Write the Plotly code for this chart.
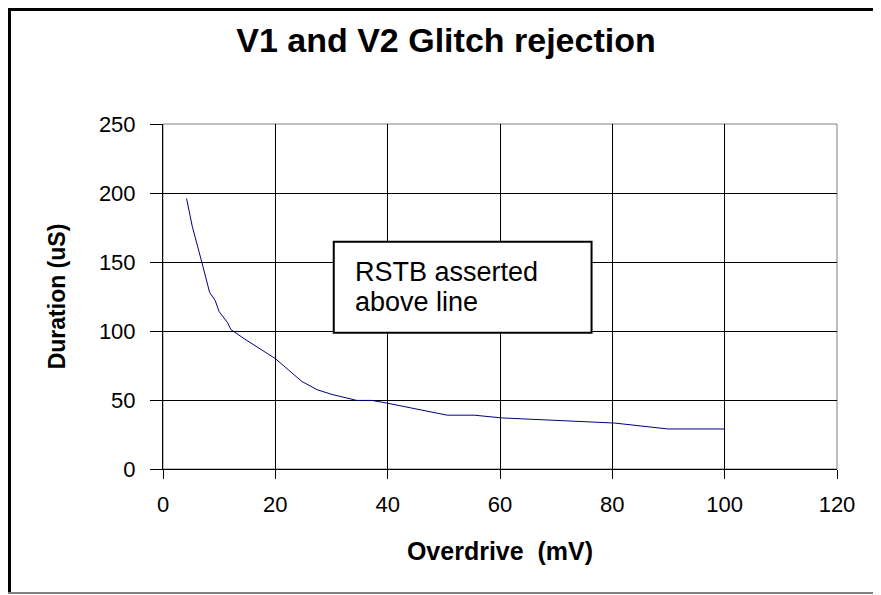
import plotly.graph_objects as go

# Glitch rejection curve
overdrive_mv = [4.2, 5.2, 6.9, 8.3, 9.3, 10.0, 11.5, 12.1, 14.6, 20.0, 24.7, 27.4,
                30.1, 34.5, 37.2, 39.8, 50.6, 55.4, 60.4, 80.4, 89.9, 100.0]
duration_us = [196, 176, 150, 128, 122, 114, 106, 101, 94, 80, 63.5, 57.5,
               54, 49.7, 49.7, 47.8, 39, 39, 37, 33.3, 29, 29]

x_ticks = [0, 20, 40, 60, 80, 100, 120]
y_ticks = [0, 50, 100, 150, 200, 250]

FONT = "Arial, Liberation Sans, sans-serif"

# the page body adds an 8px margin, so layout is shifted up/left by that much
PAGE_OFF = 8
L, T, W, H = 163 - PAGE_OFF, 124 - PAGE_OFF, 674, 345


def px(x):
    """figure pixel x -> paper x"""
    return (x - L) / W


def py(y):
    """figure pixel y -> paper y"""
    return (T + H - y) / H


fig = go.Figure()

fig.add_trace(go.Scatter(
    x=overdrive_mv, y=duration_us,
    mode="lines",
    line=dict(color="#000080", width=1),
    showlegend=False,
))

# text box
fig.add_shape(type="rect", xref="x", yref="y",
              x0=30.4, x1=76.3, y0=98.8, y1=164.7,
              line=dict(color="black", width=2), fillcolor="white", layer="above")
for txt, yv in [("RSTB asserted", 143.0), ("above line", 121.3)]:
    fig.add_annotation(x=33.9, y=yv, xref="x", yref="y",
                       text=txt, showarrow=False,
                       xanchor="left", yanchor="middle", align="left",
                       font=dict(family=FONT, size=27, color="black"))

# plot area border (grey top/right)
fig.add_shape(type="rect", xref="paper", yref="paper", x0=0, x1=1, y0=0, y1=1,
              line=dict(color="#808080", width=1), layer="below")

# outer chart frame
fig.add_shape(type="line", xref="paper", yref="paper",
              x0=px(0), x1=px(900), y0=py(1.5), y1=py(1.5),
              line=dict(color="black", width=3))
fig.add_shape(type="line", xref="paper", yref="paper",
              x0=px(1.5), x1=px(1.5), y0=py(0), y1=py(585),
              line=dict(color="black", width=3))
fig.add_shape(type="line", xref="paper", yref="paper",
              x0=px(0), x1=px(900), y0=py(585), y1=py(585),
              line=dict(color="#808080", width=2))

fig.update_layout(
    width=881, height=595,
    margin=dict(l=L, r=881 - L - W, t=T, b=595 - T - H),
    paper_bgcolor="white", plot_bgcolor="white",
    font=dict(family=FONT, color="black"),
    title=dict(text="<b>V1 and V2 Glitch rejection</b>", x=(446 - PAGE_OFF) / 881,
               xref="container", xanchor="center",
               y=1 - (40 - PAGE_OFF) / 595, yanchor="middle",
               font=dict(family=FONT, size=34, color="black")),
)

fig.update_xaxes(
    range=[0, 120], tickvals=x_ticks,
    showgrid=True, gridcolor="black", gridwidth=1,
    showline=True, linecolor="black", linewidth=1,
    ticks="outside", ticklen=9, tickcolor="black",
    ticklabelstandoff=7,
    zeroline=False,
    tickfont=dict(family=FONT, size=22),
    title=dict(text="<b>Overdrive  (mV)</b>", standoff=26,
               font=dict(family=FONT, size=25)),
)
fig.update_yaxes(
    range=[0, 250], tickvals=y_ticks,
    showgrid=True, gridcolor="black", gridwidth=1,
    showline=True, linecolor="black", linewidth=1,
    ticks="outside", ticklen=12, tickcolor="black",
    ticklabelstandoff=10,
    zeroline=False,
    tickfont=dict(family=FONT, size=22),
    title=dict(text="<b>Duration (uS)</b>", standoff=26,
               font=dict(family=FONT, size=23)),
)

fig.write_html("out.html")
